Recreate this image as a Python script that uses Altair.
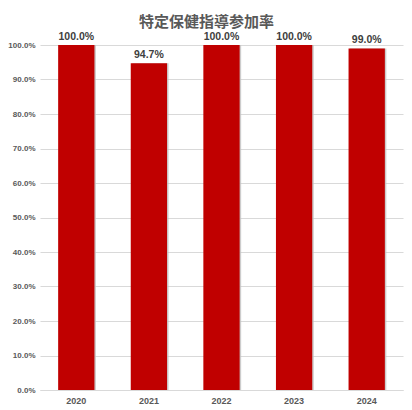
import altair as alt
import pandas as pd

years = ["2020", "2021", "2022", "2023", "2024"]
rates = [1.0, 0.947, 1.0, 1.0, 0.99]
labels = ["100.0%", "94.7%", "100.0%", "100.0%", "99.0%"]

df = pd.DataFrame({"year": years, "rate": rates, "label": labels})

x = alt.X("year:N", title=None, sort=years,
          scale=alt.Scale(paddingInner=0.5, paddingOuter=0.25),
          axis=alt.Axis(labelAngle=0, labelFontSize=9, labelFontWeight="bold",
                        labelColor="#595959", labelFont="Liberation Sans",
                        ticks=False, domainColor="#d9d9d9", labelPadding=6))
y = alt.Y("rate:Q", title=None,
          scale=alt.Scale(domain=[0, 1], nice=False),
          axis=alt.Axis(format=".1%", values=[i / 10 for i in range(11)],
                        labelFontSize=8, labelFontWeight="bold",
                        labelColor="#595959", labelFont="Liberation Sans",
                        ticks=False, domain=False, gridColor="#d9d9d9",
                        labelPadding=5))

shadow = alt.Chart(df).mark_bar(color="#bfbfbf", xOffset=1.5, opacity=0.8).encode(x=x, y=y)
bars = alt.Chart(df).mark_bar(color="#c00000").encode(x=x, y=y)
text = alt.Chart(df).mark_text(dy=-8, fontSize=10.5, fontWeight="bold",
                               color="#404040", font="Liberation Sans").encode(
    x=x, y=y, text="label:N")

chart = (shadow + bars + text).properties(
    width=363, height=345,
    autosize=alt.AutoSizeParams(type="none"),
    padding={"left": 32, "top": 37, "right": 1, "bottom": 20},
    title=alt.TitleParams("特定保健指導参加率", anchor="middle", fontSize=15,
                          font="Noto Sans CJK JP", fontWeight="bold",
                          color="#595959", offset=2, dx=-15),
).configure_view(stroke=None)

chart.save("out.html", embed_options={"renderer": "svg", "actions": False})
